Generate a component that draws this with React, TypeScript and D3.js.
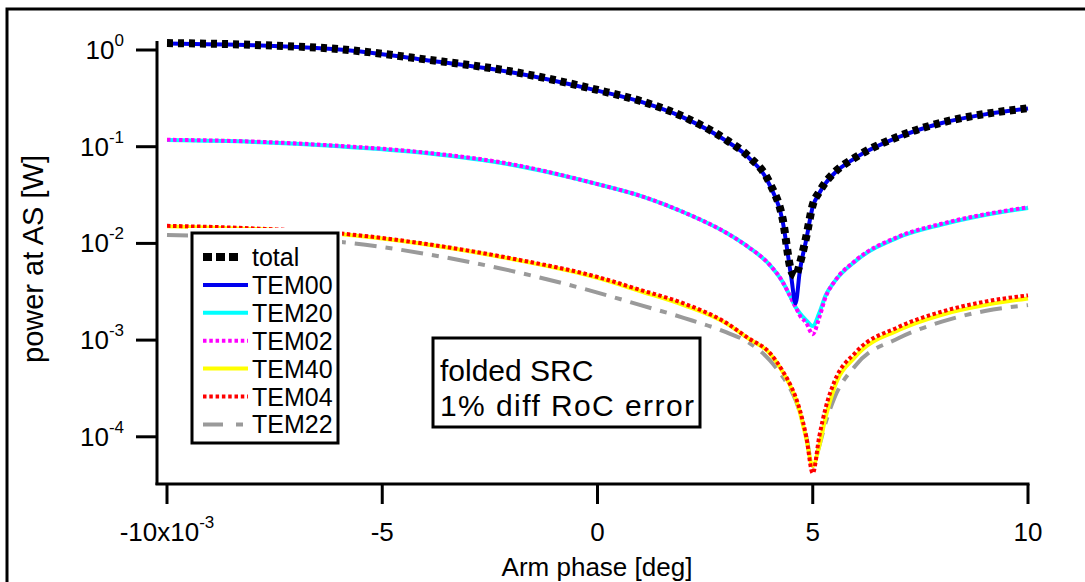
import React from "react";
import * as d3 from "d3";

// arm phase in units of 1e-3 deg
const phase = [-10, -8, -6, -4, -2, 0, 1, 2, 3, 3.5, 4, 4.3, 4.5, 4.6, 4.7, 4.85, 5, 5.15, 5.3, 5.5, 6, 7, 8, 9, 10];

const total = [1.18, 1.13, 1.02, 0.8, 0.6, 0.386, 0.297, 0.204, 0.117, 0.08, 0.042, 0.018, 0.0052, 0.0046, 0.0062, 0.0118, 0.025, 0.034, 0.043, 0.054, 0.078, 0.128, 0.178, 0.218, 0.25];
const tem00 = [1.17, 1.12, 1.01, 0.79, 0.59, 0.38, 0.292, 0.2, 0.114, 0.078, 0.04, 0.017, 0.0045, 0.0024, 0.0052, 0.011, 0.024, 0.033, 0.042, 0.053, 0.077, 0.126, 0.176, 0.216, 0.248];
const tem20 = [0.117, 0.112, 0.101, 0.086, 0.065, 0.041, 0.031, 0.021, 0.0128, 0.0092, 0.006, 0.004, 0.0027, 0.0022, 0.0019, 0.0016, 0.0014, 0.0019, 0.0029, 0.004, 0.0066, 0.0116, 0.0157, 0.0197, 0.0232];
const tem02 = [0.118, 0.113, 0.102, 0.087, 0.066, 0.041, 0.031, 0.021, 0.0128, 0.0092, 0.006, 0.004, 0.0027, 0.0022, 0.0018, 0.0015, 0.00115, 0.0017, 0.0028, 0.004, 0.0067, 0.0118, 0.016, 0.02, 0.0236];
const tem40 = [0.015, 0.0141, 0.0125, 0.0098, 0.0069, 0.0044, 0.0032, 0.0023, 0.00148, 0.00104, 0.00073, 0.00047, 0.00032, 0.00025, 0.00018, 0.000095, 0.00005, 0.00008, 0.00016, 0.00032, 0.00068, 0.00127, 0.00183, 0.0023, 0.0027];
const tem04 = [0.0152, 0.0143, 0.0127, 0.0099, 0.007, 0.0045, 0.0033, 0.0024, 0.0015, 0.00105, 0.00074, 0.00048, 0.00033, 0.00026, 0.00019, 0.0001, 0.000042, 0.0001, 0.0002, 0.00037, 0.00075, 0.00137, 0.00197, 0.0025, 0.0029];
const tem22 = [0.0122, 0.0115, 0.0104, 0.0078, 0.0052, 0.0031, 0.0023, 0.0017, 0.0012, 0.00095, 0.00062, 0.00042, 0.0003, 0.00024, 0.00018, 0.0001, 0.00005, 0.00008, 0.00014, 0.00025, 0.00055, 0.00105, 0.00155, 0.002, 0.0023];

const xTicks = [-10, -5, 0, 5, 10];
const yTicks = [1, 0.1, 0.01, 0.001, 0.0001];
const yExp = ["0", "-1", "-2", "-3", "-4"];
const noteLines = ["folded SRC", "1% diff RoC error"];

const font = "'Liberation Sans', Arial, Helvetica, sans-serif";

// drawing order: bottom first
const series = [
  { name: "TEM22", values: tem22, color: "#9a9a9a", width: 4, dash: "22,9,7,9", legendDash: "20,13,7,20" },
  { name: "TEM40", values: tem40, color: "#ffff00", width: 4, dash: null, legendDash: null },
  { name: "TEM04", values: tem04, color: "#ff0000", width: 4, dash: "3.5,2.5", legendDash: "3.5,2.8" },
  { name: "TEM20", values: tem20, color: "#00ffff", width: 4, dash: null, legendDash: null },
  { name: "TEM02", values: tem02, color: "#ff00ff", width: 4, dash: "3.5,2.5", legendDash: "3.5,2.8" },
  { name: "TEM00", values: tem00, color: "#0000ee", width: 4, dash: null, legendDash: null },
  { name: "total", values: total, color: "#000000", width: 8, dash: "6,5", legendDash: "9,4" },
];
const legendOrder = ["total", "TEM00", "TEM20", "TEM02", "TEM40", "TEM04", "TEM22"];

export default function App() {
  const x = d3.scaleLinear().domain([-10, 10]).range([167, 1028]);
  const y = d3.scaleLog().domain([3.25e-5, 1.21]).range([484, 42]);

  const line = (vals: number[]) =>
    d3
      .line<number>()
      .x((_, i) => x(phase[i]))
      .y((d) => y(d))
      .curve(d3.curveMonotoneX)(vals) as string;

  const legendRows = legendOrder.map((n) => series.find((s) => s.name === n)!);

  return (
    <svg width={1085} height={582} style={{ position: "absolute", left: 0, top: 0, background: "#fff" }} fontFamily={font}>
      <rect x={7} y={9} width={1100} height={600} fill="#fff" stroke="#000" strokeWidth={3} />

      {/* curves */}
      <g fill="none">
        {series.map((s) => (
          <path
            key={s.name}
            d={line(s.values)}
            stroke={s.color}
            strokeWidth={s.width}
            strokeDasharray={s.dash ?? undefined}
            strokeLinejoin="round"
          />
        ))}
      </g>

      {/* axes */}
      <g stroke="#000" strokeWidth={3} fill="none">
        <line x1={157} x2={157} y1={41} y2={485} />
        <line x1={155.5} x2={1029.5} y1={484} y2={484} />
        {yTicks.map((t) => (
          <line key={t} x1={136} x2={157} y1={y(t)} y2={y(t)} />
        ))}
        {xTicks.map((t) => (
          <line key={t} x1={x(t)} x2={x(t)} y1={484} y2={504} />
        ))}
      </g>

      {yTicks.map((t, i) => (
        <text key={t} x={124} y={y(t) + 9} textAnchor="end" fontSize={26}>
          10
          <tspan dy={-13} fontSize={17}>
            {yExp[i]}
          </tspan>
        </text>
      ))}

      {xTicks.map((t) => (
        <text key={t} x={x(t)} y={541} textAnchor="middle" fontSize={26}>
          {t}
          {t === -10 ? (
            <>
              <tspan>x10</tspan>
              <tspan dy={-13} fontSize={17}>
                -3
              </tspan>
            </>
          ) : null}
        </text>
      ))}

      <text x={597} y={576} textAnchor="middle" fontSize={26}>
        Arm phase [deg]
      </text>
      <text transform="translate(43,259) rotate(-90)" textAnchor="middle" fontSize={29}>
        power at AS [W]
      </text>

      {/* legend */}
      <rect x={188} y={228} width={154} height={219} fill="#fff" />
      <rect x={192} y={233} width={146} height={210} fill="none" stroke="#000" strokeWidth={3} />
      {legendRows.map((s, i) => {
        const cy = 257 + i * 27.9;
        const x2 = s.name === "total" ? 238 : 248;
        return (
          <g key={s.name}>
            <line
              x1={203}
              x2={x2}
              y1={cy}
              y2={cy}
              stroke={s.color}
              strokeWidth={s.name === "total" ? 8 : 4}
              strokeDasharray={s.legendDash ?? undefined}
            />
            <text x={252} y={cy + 9} fontSize={25}>
              {s.name}
            </text>
          </g>
        );
      })}

      {/* annotation */}
      <rect x={433} y={338} width={267} height={89} fill="#fff" stroke="#000" strokeWidth={3} />
      {noteLines.map((t, i) => (
        <text
          key={t}
          x={440}
          y={381 + i * 35}
          fontSize={30}
          textLength={i === 1 ? 254 : undefined}
          lengthAdjust="spacing"
        >
          {t}
        </text>
      ))}
    </svg>
  );
}
